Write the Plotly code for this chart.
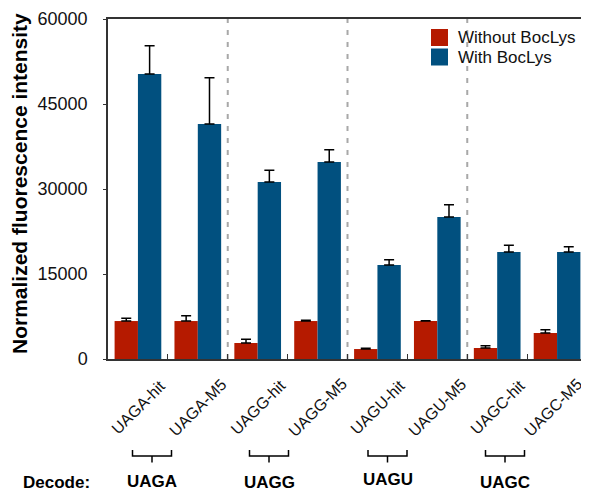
import plotly.graph_objects as go

categories = ["UAGA-hit", "UAGA-M5", "UAGG-hit", "UAGG-M5",
              "UAGU-hit", "UAGU-M5", "UAGC-hit", "UAGC-M5"]
without_vals = [6700, 6700, 2820, 6700, 1760, 6700, 1940, 4590]
without_err = [480, 950, 650, 130, 120, 60, 410, 590]
with_vals = [50300, 41470, 31240, 34760, 16590, 25060, 18880, 18880]
with_err = [4990, 8170, 2060, 2180, 930, 2170, 1180, 940]
series_names = ["Without BocLys", "With BocLys"]
decode_labels = ["UAGA", "UAGG", "UAGU", "UAGC"]
y_ticks = [0, 15000, 30000, 45000, 60000]

RED = "#B51A00"
BLUE = "#01507F"
FONT = "Liberation Sans, Arial, sans-serif"

# the page body has an 8px margin; work in window pixels and convert
OFF = 8
WIN_W, WIN_H = 589, 493
W, H = WIN_W - OFF, WIN_H - OFF
PL, PR, PT, PB = 108, 587, 19, 359  # plot area in window pixels
L = PL - OFF
R = W - (PR - OFF)
T = PT - OFF
B = H - (PB - OFF)
pw = PR - PL
ph = PB - PT


def px(x):
    return (x - PL) / pw


def py(y):
    return (PB - y) / ph


fig = go.Figure()
fig.add_trace(go.Bar(
    x=categories, y=without_vals, name=series_names[0],
    marker=dict(color=RED, line=dict(width=0)), showlegend=False,
    error_y=dict(type="data", array=without_err, arrayminus=[0] * 8, symmetric=False,
                 color="black", thickness=1.5, width=5)))
fig.add_trace(go.Bar(
    x=categories, y=with_vals, name=series_names[1],
    marker=dict(color=BLUE, line=dict(width=0)), showlegend=False,
    error_y=dict(type="data", array=with_err, arrayminus=[0] * 8, symmetric=False,
                 color="black", thickness=1.5, width=5)))

shapes = []
annotations = []

# dashed separators between codon groups
for i in [1.5, 3.5, 5.5]:
    shapes.append(dict(type="line", xref="x", yref="paper", x0=i, x1=i, y0=0, y1=1,
                       line=dict(color="#A8A8A8", width=2, dash="5px,7px"), layer="below"))

# rotated category labels
for k, cat in enumerate(categories):
    annotations.append(dict(text=cat, xref="x", yref="paper", x=cat, y=py(407),
                            textangle=-45, showarrow=False, xanchor="center", yanchor="middle",
                            xshift=-4 if k == len(categories) - 1 else 0,
                            font=dict(size=16, color="#111111", family=FONT)))

# brackets
bracket_centers = [152, 269, 387.5, 505]
for cx in bracket_centers:
    x0, x1 = cx - 19.5, cx + 19.5
    shapes.append(dict(type="path", xref="paper", yref="paper",
                       path=f"M {px(x0)} {py(450)} L {px(x0)} {py(456)} L {px(x1)} {py(456)} L {px(x1)} {py(450)}",
                       line=dict(color="black", width=1.5)))
    shapes.append(dict(type="line", xref="paper", yref="paper",
                       x0=px(cx), x1=px(cx), y0=py(456), y1=py(462.5),
                       line=dict(color="black", width=1.5)))

label_pos = [(152, 481.5), (269, 482), (387.5, 479), (505, 482)]
for lab, (lx, ly) in zip(decode_labels, label_pos):
    annotations.append(dict(text=f"<b>{lab}</b>", xref="paper", yref="paper",
                            x=px(lx), y=py(ly), showarrow=False,
                            font=dict(size=17, color="black", family=FONT),
                            xanchor="center", yanchor="middle"))
annotations.append(dict(text="<b>Decode:</b>", xref="paper", yref="paper",
                        x=px(56), y=py(482.5), showarrow=False,
                        font=dict(size=17, color="black", family=FONT),
                        xanchor="center", yanchor="middle"))

# y-axis title
annotations.append(dict(text="<b>Normalized fluorescence intensity</b>", xref="paper", yref="paper",
                        x=px(19), y=py(184), textangle=-90, showarrow=False,
                        xanchor="center", yanchor="middle",
                        font=dict(size=21, color="black", family=FONT)))

# legend (manual)
legend_rows = [(series_names[0], RED, 29, 46), (series_names[1], BLUE, 48.5, 65.5)]
for nm, c, y0, y1 in legend_rows:
    shapes.append(dict(type="rect", xref="paper", yref="paper",
                       x0=px(431), x1=px(448), y0=py(y1), y1=py(y0),
                       fillcolor=c, line=dict(width=0)))
    annotations.append(dict(text=nm, xref="paper", yref="paper",
                            x=px(456), y=py((y0 + y1) / 2), showarrow=False,
                            xanchor="left", yanchor="middle",
                            font=dict(size=17, color="#111111", family=FONT)))

fig.update_layout(
    width=W, height=H,
    margin=dict(l=L, r=R, t=T, b=B, pad=0),
    plot_bgcolor="white", paper_bgcolor="white",
    barmode="group", bargap=0.22, bargroupgap=0,
    font=dict(family=FONT, color="#111111"),
    shapes=shapes, annotations=annotations,
    showlegend=False,
    xaxis=dict(
        categoryorder="array", categoryarray=categories,
        range=[-0.5, 7.5], automargin=False,
        showline=True, linecolor="#333333", linewidth=1.5, mirror=True,
        ticks="inside", ticklen=5, tickcolor="#333333", tickson="boundaries",
        showticklabels=False, showgrid=False, zeroline=False),
    yaxis=dict(
        range=[0, 60000], tickvals=y_ticks, ticktext=[str(v) for v in y_ticks],
        automargin=False,
        showline=True, linecolor="#333333", linewidth=1.5, mirror=True,
        ticks="outside", ticklen=3, tickcolor="#333333",
        tickfont=dict(size=18, color="#111111", family=FONT),
        ticklabelstandoff=12, showgrid=False, zeroline=False),
)

fig.write_html("out.html")
